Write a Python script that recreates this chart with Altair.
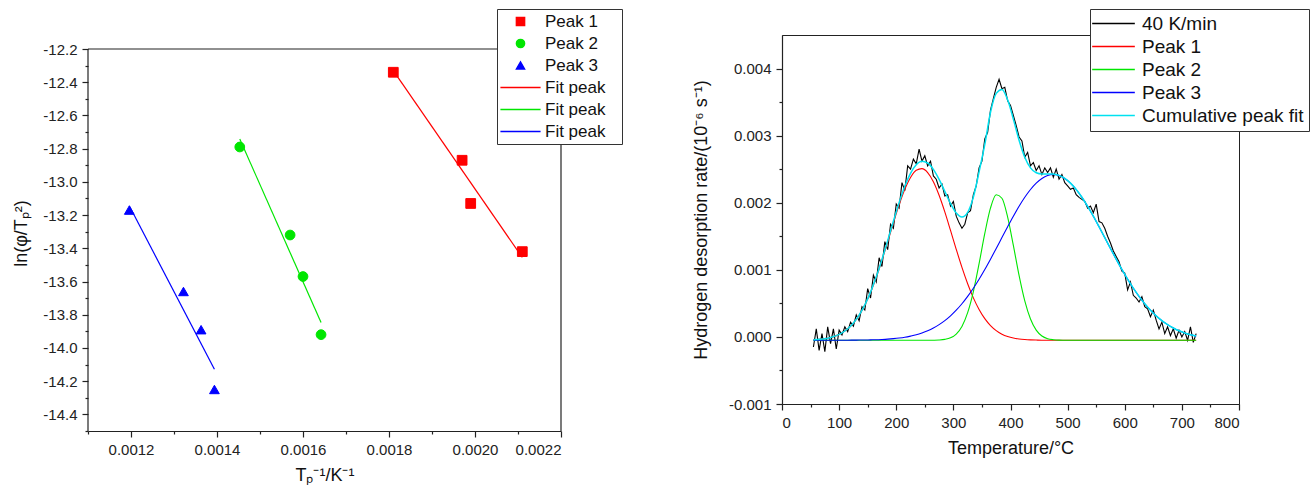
import altair as alt
import pandas as pd

FONT = "Liberation Sans"
MINUS = "\u2212"
PAD = "\u2800"   # blank glyph that widens the left legend box like the original

# ---------------- left panel: ln(phi/Tp^2) vs 1/Tp ----------------
p1_x = [0.00181, 0.00197, 0.00199, 0.00211]
p1_y = [-12.34, -12.87, -13.13, -13.42]
p2_x = [0.001453, 0.00157, 0.00160, 0.001642]
p2_y = [-12.79, -13.32, -13.57, -13.92]
p3_x = [0.001196, 0.001322, 0.001363, 0.001394]
p3_y = [-13.17, -13.66, -13.89, -14.25]

fit1_x = [0.00181, 0.00211]
fit1_y = [-12.33, -13.455]
fit2_x = [0.001453, 0.001642]
fit2_y = [-12.742, -13.847]
fit3_x = [0.001196, 0.001394]
fit3_y = [-13.144, -14.128]

LEG_LINE_L = "M-4.8,0H4.8"   # legend line symbol (about 40 px at symbol size 70)
LEG_LINE_R = "M-5.1,0H5.1"   # legend line symbol (about 43 px at symbol size 70)

left_series = ["Peak 1", "Peak 2", "Peak 3", "Fit 1", "Fit 2", "Fit 3"]
left_colors = ["#ff0000", "#00e600", "#0000ff", "#ff0000", "#00e600", "#0000ff"]
left_shapes = ["square", "circle", "triangle-up", LEG_LINE_L, LEG_LINE_L, LEG_LINE_L]

left_x_dom = [0.0011, 0.0022]
left_y_dom = [-14.5, -12.2]
left_y_view_top = -12.1157    # the view reaches a little above the frame so both panels share a top
left_x_ticks = [0.0012, 0.0014, 0.0016, 0.0018, 0.0020, 0.0022]
left_x_minor = [0.0011, 0.0013, 0.0015, 0.0017, 0.0019, 0.0021]
left_y_ticks = [-12.2, -12.4, -12.6, -12.8, -13.0, -13.2, -13.4, -13.6, -13.8, -14.0, -14.2, -14.4]
left_y_minor = [-12.3, -12.5, -12.7, -12.9, -13.1, -13.3, -13.5, -13.7, -13.9, -14.1, -14.3, -14.5]

# ---------------- right panel: TDS spectrum (values in 1e-3 units) ----------------
T_data = list(range(55, 730, 5))
rate_40 = [
    -0.15, 0.12, -0.20, 0.05, -0.22, 0.15, -0.10, 0.12, -0.18, 0.10,
    0.03, 0.15, 0.08, 0.22, 0.16, 0.33, 0.24, 0.45, 0.40, 0.72,
    0.58, 0.92, 0.82, 1.18, 1.05, 1.42, 1.30, 1.68, 1.62, 1.98,
    1.92, 2.30, 2.18, 2.55, 2.50, 2.65, 2.58, 2.80, 2.62, 2.70,
    2.55, 2.62, 2.40, 2.35, 2.22, 2.28, 2.10, 2.12, 1.95, 2.02,
    1.80, 1.70, 1.62, 1.68, 1.85, 1.88, 2.12, 2.25, 2.52, 2.62,
    2.95, 3.05, 3.38, 3.55, 3.72, 3.84, 3.70, 3.72, 3.52, 3.45,
    3.30, 3.15, 2.98, 2.92, 2.68, 2.75, 2.55, 2.60, 2.48, 2.55,
    2.42, 2.52, 2.45, 2.52, 2.38, 2.50, 2.35, 2.42, 2.30, 2.25,
    2.20, 2.22, 2.12, 2.08, 2.05, 2.02, 1.92, 1.95, 1.85, 1.98,
    1.72, 1.70, 1.62, 1.50, 1.40, 1.28, 1.20, 1.12, 0.98, 0.95,
    0.70, 0.82, 0.62, 0.58, 0.52, 0.60, 0.45, 0.42, 0.30, 0.40,
    0.25, 0.12, 0.22, 0.05, 0.15, 0.02, 0.12, -0.02, 0.10, 0.00,
    0.08, -0.05, 0.15, -0.08, 0.05,
]

T_fit = list(range(55, 730, 10))
peak1 = [
    -0.043, -0.036, -0.026, -0.009, 0.019, 0.060, 0.121, 0.207, 0.323, 0.474,
    0.662, 0.887, 1.142, 1.418, 1.699, 1.967, 2.199, 2.376, 2.483, 2.508,
    2.450, 2.313, 2.111, 1.863, 1.587, 1.306, 1.037, 0.793, 0.582, 0.409,
    0.272, 0.169, 0.094, 0.041, 0.006, -0.017, -0.031, -0.039, -0.044, -0.047,
    -0.049, -0.049, -0.050, -0.050, -0.050, -0.050, -0.050, -0.050, -0.050, -0.050,
    -0.050, -0.050, -0.050, -0.050, -0.050, -0.050, -0.050, -0.050, -0.050, -0.050,
    -0.050, -0.050, -0.050, -0.050, -0.050, -0.050, -0.050, -0.050,
]
peak2 = [
    -0.050, -0.050, -0.050, -0.050, -0.050, -0.050, -0.050, -0.050, -0.050, -0.050,
    -0.050, -0.050, -0.050, -0.050, -0.050, -0.050, -0.050, -0.050, -0.050, -0.050,
    -0.050, -0.049, -0.046, -0.037, -0.014, 0.042, 0.156, 0.361, 0.676, 1.091,
    1.542, 1.922, 2.118, 2.067, 1.786, 1.363, 0.916, 0.536, 0.266, 0.101,
    0.014, -0.026, -0.042, -0.048, -0.049, -0.050, -0.050, -0.050, -0.050, -0.050,
    -0.050, -0.050, -0.050, -0.050, -0.050, -0.050, -0.050, -0.050, -0.050, -0.050,
    -0.050, -0.050, -0.050, -0.050, -0.050, -0.050, -0.050, -0.050,
]
peak3 = [
    -0.050, -0.050, -0.050, -0.050, -0.050, -0.049, -0.049, -0.048, -0.047, -0.046,
    -0.044, -0.042, -0.038, -0.033, -0.026, -0.017, -0.005, 0.012, 0.032, 0.059,
    0.092, 0.133, 0.183, 0.243, 0.314, 0.398, 0.494, 0.604, 0.726, 0.860,
    1.005, 1.159, 1.318, 1.481, 1.642, 1.799, 1.947, 2.081, 2.197, 2.292,
    2.362, 2.405, 2.420, 2.405, 2.362, 2.292, 2.197, 2.081, 1.947, 1.799,
    1.642, 1.481, 1.318, 1.159, 1.005, 0.860, 0.726, 0.604, 0.494, 0.398,
    0.314, 0.243, 0.183, 0.133, 0.092, 0.059, 0.032, 0.012,
]
cumulative = [
    -0.043, -0.036, -0.026, -0.008, 0.019, 0.061, 0.122, 0.208, 0.325, 0.478,
    0.668, 0.895, 1.154, 1.435, 1.723, 2.000, 2.245, 2.438, 2.565, 2.617,
    2.592, 2.497, 2.348, 2.169, 1.988, 1.846, 1.787, 1.857, 2.084, 2.460,
    2.869, 3.349, 3.630, 3.689, 3.535, 3.246, 2.932, 2.678, 2.519, 2.446,
    2.428, 2.430, 2.428, 2.408, 2.363, 2.292, 2.197, 2.081, 1.947, 1.799,
    1.642, 1.481, 1.318, 1.159, 1.005, 0.860, 0.726, 0.604, 0.494, 0.398,
    0.314, 0.243, 0.183, 0.133, 0.092, 0.059, 0.032, 0.012,
]

right_series = ["40 K/min", "Peak 1", "Peak 2", "Peak 3", "Cumulative peak fit"]
right_colors = ["#000000", "#ff0000", "#00e600", "#0000ff", "#00e1f0"]

right_x_ticks = [0, 100, 200, 300, 400, 500, 600, 700, 800]
right_x_minor = [50, 150, 250, 350, 450, 550, 650, 750]
right_y_ticks = [-0.001, 0.0, 0.001, 0.002, 0.003, 0.004]
right_y_minor = [-0.0005, 0.0005, 0.0015, 0.0025, 0.0035]

# ---------------- build left chart ----------------
pts = pd.DataFrame({
    "series": ["Peak 1"] * len(p1_x) + ["Peak 2"] * len(p2_x) + ["Peak 3"] * len(p3_x),
    "x": p1_x + p2_x + p3_x,
    "y": p1_y + p2_y + p3_y,
})
fits = pd.DataFrame({
    "series": ["Fit 1"] * 2 + ["Fit 2"] * 2 + ["Fit 3"] * 2,
    "x": fit1_x + fit2_x + fit3_x,
    "y": fit1_y + fit2_y + fit3_y,
})
one_row = pd.DataFrame({"k": [0]})

lx_scale = alt.Scale(domain=left_x_dom, nice=False, zero=False)
ly_scale = alt.Scale(domain=[left_y_dom[0], left_y_view_top], nice=False, zero=False)

lx_major = alt.Axis(orient="bottom", values=left_x_ticks,
                    labelExpr="format(datum.value, '.4f')",
                    title="Tₚ⁻¹/K⁻¹", tickSize=6, labelPadding=5, titlePadding=9, grid=False)
lx_minor = alt.Axis(orient="bottom", values=left_x_minor, labels=False, domain=False,
                    tickSize=3, title=None, grid=False)
ly_major = alt.Axis(orient="left", values=left_y_ticks, domain=False,
                    labelExpr=f"replace(format(datum.value, '.1f'), '{MINUS}', '-')",
                    title="ln(φ/Tₚ²)", tickSize=6, labelPadding=5, titlePadding=12, grid=False)
ly_minor = alt.Axis(orient="left", values=left_y_minor, labels=False, domain=False,
                    tickSize=3, title=None, grid=False)

left_legend = alt.Legend(
    title=None, orient="none", legendX=409, legendY=-26,
    labelExpr=f"(indexof(datum.label, 'Fit') == 0 ? 'Fit peak' : datum.label) + '{PAD}'",
    labelFontSize=17, labelLimit=300, symbolSize=70, symbolStrokeWidth=1.3,
    symbolOffset=11, labelOffset=16,
    padding=4, rowPadding=4, strokeColor="#333", fillColor="white",
)
lcolor_scale = alt.Scale(domain=left_series, range=left_colors)

left_lines = alt.Chart(fits).mark_line(strokeWidth=1.2).encode(
    x=alt.X("x:Q", scale=lx_scale, axis=lx_minor),
    y=alt.Y("y:Q", scale=ly_scale, axis=ly_minor),
    stroke=alt.Stroke("series:N", scale=lcolor_scale, legend=left_legend),
    detail="series:N",
)
left_points = alt.Chart(pts).mark_point(filled=True, size=95, opacity=1, strokeWidth=1).encode(
    x=alt.X("x:Q", scale=lx_scale, axis=lx_major),
    y=alt.Y("y:Q", scale=ly_scale, axis=ly_major),
    fill=alt.Fill("series:N", scale=lcolor_scale, legend=left_legend),
    stroke=alt.Stroke("series:N", scale=lcolor_scale, legend=left_legend),
    shape=alt.Shape("series:N", scale=alt.Scale(domain=left_series, range=left_shapes), legend=left_legend),
)
# frame of the left plot (top, left, right edges; bottom is the x axis line)
frame_top = alt.Chart(one_row).mark_rule(color="#222", strokeWidth=1.2).encode(
    y=alt.YDatum(left_y_dom[1], axis=None))
frame_left = alt.Chart(one_row).mark_rule(color="#222", strokeWidth=1.2).encode(
    x=alt.XDatum(left_x_dom[0], axis=None),
    y=alt.YDatum(left_y_dom[0], axis=None), y2=alt.Y2Datum(left_y_dom[1]))
frame_right = alt.Chart(one_row).mark_rule(color="#222", strokeWidth=1.2).encode(
    x=alt.XDatum(left_x_dom[1], axis=None),
    y=alt.YDatum(left_y_dom[0], axis=None), y2=alt.Y2Datum(left_y_dom[1]))

left = alt.layer(left_lines, left_points, frame_top, frame_left, frame_right).resolve_axis(
    x="independent", y="independent"
).properties(width=473, height=396, view=alt.ViewBackground(stroke="transparent"))

# ---------------- build right chart ----------------
def frame(name, xs, vals):
    return pd.DataFrame({"series": [name] * len(xs), "T": xs, "v": [v * 0.001 for v in vals]})

rx_scale = alt.Scale(domain=[0, 800], nice=False, zero=False)
ry_scale = alt.Scale(domain=[-0.001, 0.0045], nice=False, zero=False)
rcolor_scale = alt.Scale(domain=right_series, range=right_colors)

rx_major = alt.Axis(orient="bottom", values=right_x_ticks, format="d",
                    title="Temperature/°C", tickSize=6, labelPadding=5, titlePadding=9, grid=False)
rx_minor = alt.Axis(orient="bottom", values=right_x_minor, labels=False, domain=False,
                    tickSize=3, title=None, grid=False)
ry_major = alt.Axis(orient="left", values=right_y_ticks,
                    labelExpr=f"replace(format(datum.value, '.3f'), '{MINUS}', '-')",
                    title="Hydrogen desorption rate/(10⁻⁶ s⁻¹)", tickSize=6, labelPadding=5,
                    titlePadding=18, grid=False)
ry_minor = alt.Axis(orient="left", values=right_y_minor, labels=False, domain=False,
                    tickSize=3, title=None, grid=False)

right_legend = alt.Legend(
    title=None, orient="none", legendX=308, legendY=-26,
    symbolType=LEG_LINE_R, symbolSize=70, symbolStrokeWidth=1.5,
    symbolOffset=9, labelOffset=19, labelFontSize=19, labelLimit=300,
    padding=5, rowPadding=3, strokeColor="#333", fillColor="white",
)

def curve(df, ax_x, ax_y, width, interp):
    return alt.Chart(df).mark_line(strokeWidth=width, interpolate=interp).encode(
        x=alt.X("T:Q", scale=rx_scale, axis=ax_x),
        y=alt.Y("v:Q", scale=ry_scale, axis=ax_y),
        color=alt.Color("series:N", scale=rcolor_scale, legend=right_legend),
    )

right = alt.layer(
    curve(frame("40 K/min", T_data, rate_40), rx_major, ry_major, 1.1, "linear"),
    curve(frame("Peak 1", T_fit, peak1), rx_minor, ry_minor, 1.1, "monotone"),
    curve(frame("Peak 2", T_fit, peak2), None, None, 1.1, "monotone"),
    curve(frame("Peak 3", T_fit, peak3), None, None, 1.1, "monotone"),
    curve(frame("Cumulative peak fit", T_fit, cumulative), None, None, 1.5, "monotone"),
).resolve_axis(x="independent", y="independent").properties(width=457, height=369)

chart = alt.hconcat(left, right, spacing=68).resolve_scale(
    color="independent", shape="independent", fill="independent", stroke="independent"
).properties(
    padding={"left": 12, "top": 8, "right": 0, "bottom": 0}
).configure(font=FONT).configure_view(
    stroke="#222", strokeWidth=1
).configure_axis(
    labelFont=FONT, titleFont=FONT, labelFontSize=15, titleFontSize=18,
    titleFontWeight="normal", labelColor="#222", titleColor="#111",
    domainColor="#222", tickColor="#222", domainWidth=1.2, tickWidth=1.2,
).configure_legend(labelFont=FONT, labelColor="#111")

chart.save("out.html", embed_options={"renderer": "svg", "actions": False})
